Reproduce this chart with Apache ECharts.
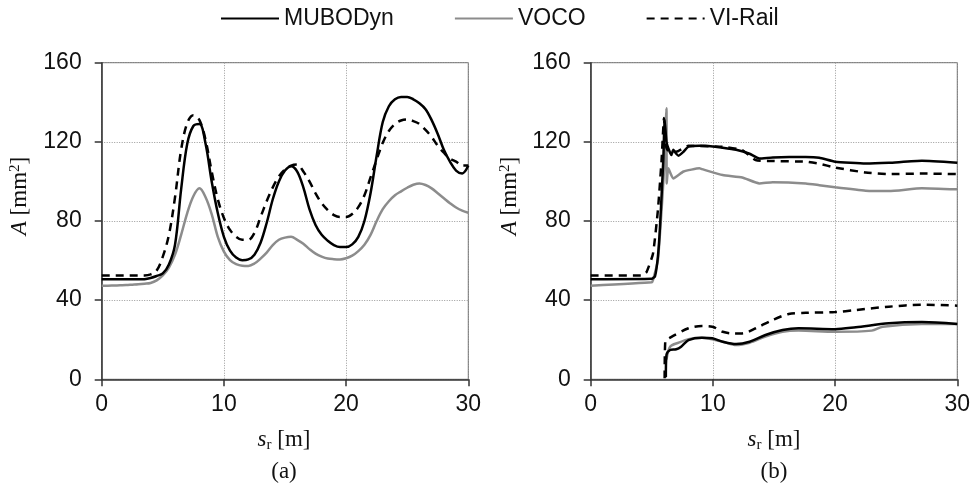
<!DOCTYPE html>
<html>
<head>
<meta charset="utf-8">
<script src="https://cdn.jsdelivr.net/npm/echarts@6/dist/echarts.min.js"></script>
<style>html,body{margin:0;padding:0;background:#fff;}#c{width:978px;height:492px;}</style>
</head>
<body>
<div id="c"></div>
<script>
// ---- data (s_r [m], A [mm^2]) ----
const seriesNames = ['MUBODyn', 'VOCO', 'VI-Rail'];
const xTicks = [0, 10, 20, 30];
const yTicks = [0, 40, 80, 120, 160];

// (a) sampled every 0.5 m
const aX = [0,0.5,1,1.5,2,2.5,3,3.5,4,4.5,5,5.5,6,6.5,7,7.5,8,8.5,9,9.5,10,10.5,11,11.5,12,12.5,13,13.5,14,14.5,15,15.5,16,16.5,17,17.5,18,18.5,19,19.5,20,20.5,21,21.5,22,22.5,23,23.5,24,24.5,25,25.5,26,26.5,27,27.5,28,28.5,29,29.5,30];
const aMubodyn = [50.5,50.5,50.5,50.5,50.5,50.5,50.5,50.6,51.2,52.2,53.5,58,68,96,119,128,129,119,100,84,72,65,61.5,60.2,60.6,63,69,79,91,100,105.5,107.7,105,97,86,78,73,70,67.8,66.8,66.8,68.2,72,80,94,113,130,138,141.5,142.7,142.7,141.5,139.5,136.5,131,124,116,110,105.5,104,108];
const aVoco = [47.3,47.3,47.4,47.5,47.6,47.8,48,48.3,48.7,50,52.5,56.5,63,73,84,92.5,96.5,92,83.5,72,64.5,60.2,58.2,57.4,57.3,58.5,61,64,67.8,70.5,71.6,72,70.5,68.5,65.8,63.5,62,61,60.7,60.6,61.2,62.5,64.8,68,73,80,86,90,93,95,96.8,98.3,99,98.2,96.5,94,91.5,89,86.8,85.2,84.2];
const aVirail = [52.5,52.5,52.5,52.5,52.5,52.5,52.5,52.5,53,55,62,73,92,116,129.5,133.5,131,121,105,91,81.5,75.5,72,70.5,70.5,74,82,90,97,102.5,106,108,108.5,105,100,94,89,85.5,83,82,82,83.5,87,93,102,111,119.5,125.5,129,130.8,131.3,130.5,129,126,122.5,118,114.5,111.6,110,108,108];

// (b) upper branch [s_r, A]
const bMubodynUp = [[0,50.6],[5.0,50.8],[5.26,52],[5.5,62],[5.67,77],[5.94,110.7],[6.05,131],[6.2,120],[6.4,116],[6.6,113.3],[6.76,116],[7.0,114],[7.2,113],[7.6,115],[8.0,117.6],[8.9,118],[9.4,118],[10.8,117],[11.9,116],[13.0,114],[13.8,111.6],[14.9,112.1],[17.6,112.4],[18.7,112],[20.0,110],[22.5,109],[24.4,109.4],[27.1,110.4],[30,109.4]];
const bVocoUp = [[0,47.3],[5.0,49],[5.1,50.2],[5.5,60.2],[5.8,85.5],[6.0,105.7],[6.2,137],[6.22,99],[6.35,106.6],[6.76,101.5],[7.6,105],[8.9,106.6],[9.1,106.2],[10.8,103.2],[12.4,102],[13.8,99],[14.9,99.6],[17.6,99],[18.7,98.1],[20.0,97],[22.5,95.3],[24.4,95.1],[27.1,96.6],[30,96]];
const bVirailUp = [[0,52.5],[4.2,52.5],[4.58,54.3],[5.1,63.6],[5.5,85.5],[5.8,110.7],[6.0,132],[6.15,118],[6.4,115],[7.0,115],[8.0,118],[10.8,117.5],[12.4,115.8],[13.5,110.8],[14.9,110.3],[17.6,110],[18.7,109],[20.0,107],[22.5,104.5],[24.4,103.7],[27.1,104],[30,103.7]];
// (b) lower branch [s_r, A]
const bMubodynLow = [[6.15,1],[6.2,12.3],[6.5,14.8],[7.0,15.2],[7.4,16.5],[8.0,19.8],[9.1,21],[9.95,20.7],[10.8,19],[11.9,17.8],[13.0,19],[14.3,22.4],[15.7,24.9],[17.0,25.8],[20.0,25.3],[21.7,26.3],[24.4,28.3],[27.1,28.9],[30,27.9]];
const bVocoLow = [[6.2,10],[6.5,16.5],[7.2,18.5],[8.0,20.3],[9.1,21],[10.8,19],[11.9,17.3],[13.0,18.5],[14.3,21.6],[15.7,24],[17.0,24.6],[20.0,24],[23.0,24.6],[23.9,26.6],[27.1,27.9],[30,27.9]];
const bVirailLow = [[6.05,0.5],[6.1,19],[6.4,20.7],[8.0,25.8],[9.1,26.9],[9.95,26.6],[10.8,24],[11.6,23.2],[12.4,23.2],[13.5,25.8],[14.9,30],[16.2,33],[17.6,33.6],[20.0,34],[21.7,35],[24.4,36.7],[27.1,37.7],[30,37.2]];

// ---- styles ----
const SANS = 'Liberation Sans, Arial, sans-serif';
const SERIF = 'Liberation Serif, Times New Roman, serif';
const styleOf = {
  'MUBODyn': {color: '#000', type: 'solid', z: 3},
  'VOCO': {color: '#8c8c8c', type: 'solid', z: 2},
  'VI-Rail': {color: '#000', type: [8, 6], z: 4}
};

function pairs(xs, ys) { return xs.map(function (x, i) { return [x, ys[i]]; }); }

function mkSeries(name, data, idx, smooth) {
  const s = styleOf[name];
  return {
    name: name, type: 'line', xAxisIndex: idx, yAxisIndex: idx,
    data: data, symbol: 'none', smooth: smooth,
    z: s.z, color: s.color,
    lineStyle: {color: s.color, width: 2.5, type: s.type},
    animation: false
  };
}

function mkX(idx) {
  return {
    gridIndex: idx, type: 'value', min: xTicks[0], max: xTicks[xTicks.length - 1], interval: 10,
    axisLine: {show: true, lineStyle: {color: '#333', width: 1.5}},
    axisTick: {show: true, inside: false, length: 7, lineStyle: {color: '#333', width: 1.5}},
    axisLabel: {margin: 14, fontFamily: SANS, fontSize: 23, color: '#111'},
    splitLine: {show: true, lineStyle: {color: '#9a9a9a', width: 1, type: [1, 1.5]}}
  };
}
function mkY(idx) {
  return {
    gridIndex: idx, type: 'value', min: yTicks[0], max: yTicks[yTicks.length - 1], interval: 40,
    axisLine: {show: true, lineStyle: {color: '#333', width: 1.5}},
    axisTick: {show: true, inside: false, length: 7, lineStyle: {color: '#333', width: 1.5}},
    axisLabel: {margin: 20, fontFamily: SANS, fontSize: 23, color: '#111'},
    splitLine: {show: true, lineStyle: {color: '#9a9a9a', width: 1, type: [1, 1.5]}}
  };
}

function yName(cx) {
  return {type: 'text', x: cx, y: 196, rotation: Math.PI / 2,
    style: {text: '{i|A} [mm{sup|2}]', fontFamily: SERIF, fontSize: 23, fill: '#111', align: 'center', verticalAlign: 'middle',
      rich: {i: {fontFamily: SERIF, fontStyle: 'italic', fontSize: 23, fill: '#111'},
             sup: {fontFamily: SERIF, fontSize: 15, fill: '#111', verticalAlign: 'top', padding: [0, 0, 9, 0]}}}};
}
function xName(cx) {
  return {type: 'text', x: cx, y: 440,
    style: {text: '{i|s}{sub|r} [m]', fontFamily: SERIF, fontSize: 23, fill: '#111', align: 'center', verticalAlign: 'middle',
      rich: {i: {fontFamily: SERIF, fontStyle: 'italic', fontSize: 23, fill: '#111'},
             sub: {fontFamily: SERIF, fontSize: 15, fill: '#111', verticalAlign: 'bottom', padding: [10, 0, 0, 0]}}}};
}
function panel(cx, t) {
  return {type: 'text', x: cx, y: 472,
    style: {text: t, fontFamily: SERIF, fontSize: 23, fill: '#111', align: 'center', verticalAlign: 'middle'}};
}

const chart = echarts.init(document.getElementById('c'), null, {renderer: 'canvas'});
chart.setOption({
  backgroundColor: '#fff',
  animation: false,
  legend: {
    data: seriesNames, left: 215, top: 2, itemWidth: 58, itemHeight: 10, itemGap: 60,
    itemStyle: {opacity: 0, borderWidth: 0},
    textStyle: {fontFamily: SANS, fontSize: 23, color: '#111'}
  },
  grid: [
    {left: 101.7, top: 62.7, width: 366.6, height: 316.6, show: true, borderColor: '#666', borderWidth: 1, backgroundColor: 'transparent'},
    {left: 590.7, top: 62.7, width: 366.6, height: 316.6, show: true, borderColor: '#666', borderWidth: 1, backgroundColor: 'transparent'}
  ],
  xAxis: [mkX(0), mkX(1)],
  yAxis: [mkY(0), mkY(1)],
  series: [
    mkSeries('MUBODyn', pairs(aX, aMubodyn), 0, 0.35),
    mkSeries('VOCO', pairs(aX, aVoco), 0, 0.35),
    mkSeries('VI-Rail', pairs(aX, aVirail), 0, 0.35),
    mkSeries('MUBODyn', bMubodynUp, 1, 0.15),
    mkSeries('VOCO', bVocoUp, 1, 0.15),
    mkSeries('VI-Rail', bVirailUp, 1, 0.15),
    mkSeries('MUBODyn', bMubodynLow, 1, 0.3),
    mkSeries('VOCO', bVocoLow, 1, 0.3),
    mkSeries('VI-Rail', bVirailLow, 1, 0.3)
  ],
  graphic: [yName(20), yName(510), xName(284), xName(774), panel(284, '(a)'), panel(774, '(b)')]
});
</script>
</body>
</html>
